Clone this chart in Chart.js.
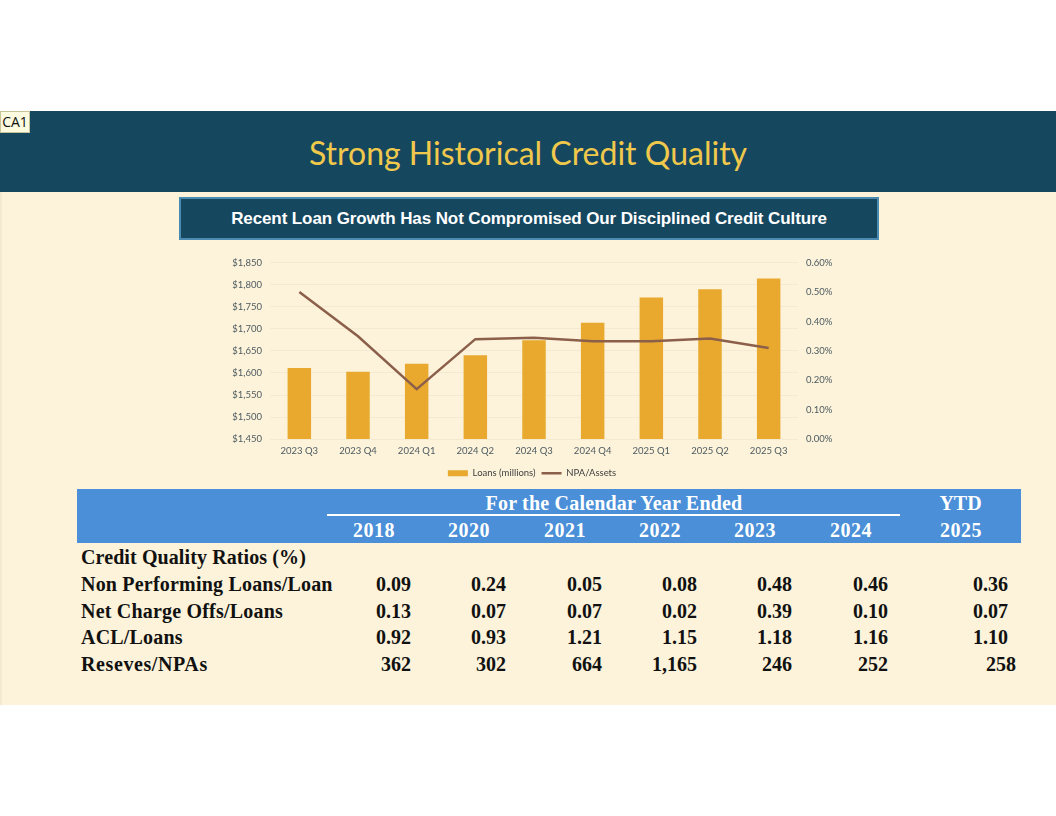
<!DOCTYPE html>
<html>
<head>
<meta charset="utf-8">
<script src="https://cdn.jsdelivr.net/npm/chart.js@4.4.1/dist/chart.umd.min.js"></script>
<style>
  html, body { margin: 0; padding: 0; background: #fff; }
  body { width: 1056px; height: 816px; position: relative; overflow: hidden; }
  .banner { position: absolute; left: 0; top: 111px; width: 1056px; height: 81px; background: #15475f; }
  .banner h1 { margin: 0; position: absolute; left: 0; right: 0; top: 22px; text-align: center;
    font-family: Lato, "Open Sans", sans-serif; font-weight: normal; font-size: 32px; color: #f0c94c; }
  .tag { position: absolute; left: 0; top: 111px; width: 28px; height: 20px; background: #fdfbe0;
    border: 1px solid #c9c39a; font: 14px "Open Sans", sans-serif; line-height: 20px; text-align: center; color: #111; }
  .cream { position: absolute; left: 0; top: 192px; width: 1056px; height: 513px; background: #fcf3da;
    border-left: 2px solid #f2ead0; box-sizing: border-box; }
  .sub { position: absolute; left: 179px; top: 197px; width: 700px; height: 43px; box-sizing: border-box;
    background: #15475f; border: 2px solid #4b8bb2; color: #fff; text-align: center;
    font: bold 17px "Liberation Sans", Arial, sans-serif; line-height: 39px; letter-spacing: -0.1px; }
  #wrap { position: absolute; left: 222px; top: 249px; width: 620px; height: 239px; }
  .tbl { position: absolute; left: 77px; top: 489px; width: 944px; font-family: "Liberation Serif", "Times New Roman", serif;
    font-weight: bold; font-size: 20px; color: #111; }
  .head { position: absolute; left: 0; top: 0; width: 944px; height: 54px; background: #4a8fd8; color: #fff; }
  .head span, .row span { position: absolute; white-space: nowrap; }
  .uline { position: absolute; left: 250px; top: 25px; width: 573px; height: 2px; background: #fff; }
  .row { position: absolute; left: 0; width: 944px; height: 26px; }
</style>
</head>
<body>
<div class="banner"><h1>Strong Historical Credit Quality</h1></div>
<div class="tag">CA1</div>
<div class="cream"></div>
<div class="sub">Recent Loan Growth Has Not Compromised Our Disciplined Credit Culture</div>
<div id="wrap"><canvas id="chart"></canvas></div>
<div class="tbl" id="tbl"></div>
<script>
// chart data
var quarters = ['2023 Q3', '2023 Q4', '2024 Q1', '2024 Q2', '2024 Q3', '2024 Q4', '2025 Q1', '2025 Q2', '2025 Q3'];
var loans = [1611, 1603, 1621, 1640, 1674, 1714, 1771, 1790, 1814];
var npaAssets = [0.50, 0.35, 0.17, 0.34, 0.345, 0.333, 0.333, 0.342, 0.31];

// table data
var years = ['2018', '2020', '2021', '2022', '2023', '2024', '2025'];
var rowLabels = ['Non Performing Loans/Loan', 'Net Charge Offs/Loans', 'ACL/Loans', 'Reseves/NPAs'];
var nplLoans = ['0.09', '0.24', '0.05', '0.08', '0.48', '0.46', '0.36'];
var ncoLoans = ['0.13', '0.07', '0.07', '0.02', '0.39', '0.10', '0.07'];
var aclLoans = ['0.92', '0.93', '1.21', '1.15', '1.18', '1.16', '1.10'];
var reservesNpa = ['362', '302', '664', '1,165', '246', '252', '258'];

var tickFont = { family: 'Lato, "Open Sans", sans-serif', size: 9.5 };
var tickColor = '#4d5a60';

var ctx = document.getElementById('chart').getContext('2d');
var chart = new Chart(ctx, {
    type: 'bar',
    data: {
        labels: quarters,
        datasets: [
            {
                type: 'line',
                label: 'NPA/Assets',
                data: npaAssets,
                yAxisID: 'y1',
                borderColor: '#8b5f4a',
                backgroundColor: '#8b5f4a',
                borderWidth: 2.5,
                pointRadius: 0,
                tension: 0,
                order: 0
            },
            {
                label: 'Loans (millions)',
                data: loans,
                yAxisID: 'y',
                backgroundColor: '#e9a92e',
                borderWidth: 0,
                categoryPercentage: 1,
                barPercentage: 0.4,
                order: 1
            }
        ]
    },
    options: {
        responsive: true,
        maintainAspectRatio: false,
        animation: false,
        layout: { padding: { top: 4, bottom: 0, left: 0, right: 0 } },
        plugins: {
            tooltip: { enabled: false },
            legend: {
                display: true,
                position: 'bottom',
                reverse: true,
                labels: {
                    usePointStyle: true,
                    pointStyleWidth: 20,
                    boxHeight: 6,
                    padding: 6,
                    color: '#404040',
                    font: tickFont,
                    generateLabels: function (chart) {
                        var items = Chart.defaults.plugins.legend.labels.generateLabels(chart);
                        items.forEach(function (it) {
                            it.pointStyle = it.datasetIndex === 0 ? 'line' : 'rect';
                            if (it.datasetIndex === 1) { it.lineWidth = 0; }
                        });
                        return items;
                    }
                }
            }
        },
        scales: {
            x: {
                grid: { display: false, drawTicks: false },
                border: { display: false },
                ticks: { color: tickColor, font: tickFont, padding: 6 }
            },
            y: {
                position: 'left',
                min: 1450,
                max: 1850,
                ticks: {
                    stepSize: 50,
                    color: tickColor,
                    font: tickFont,
                    padding: 8,
                    callback: function (v) { return '$' + v.toLocaleString('en-US'); }
                },
                grid: { color: 'rgba(120, 100, 60, 0.06)', drawTicks: false },
                border: { display: false },
                afterFit: function (s) { s.width = 48; }
            },
            y1: {
                position: 'right',
                min: 0,
                max: 0.6,
                ticks: {
                    stepSize: 0.1,
                    color: tickColor,
                    font: tickFont,
                    padding: 8,
                    callback: function (v) { return v.toFixed(2) + '%'; }
                },
                grid: { display: false, drawTicks: false },
                border: { display: false },
                afterFit: function (s) { s.width = 44; }
            }
        }
    }
});

// table
var tbl = document.getElementById('tbl');
var colRight = [334, 429, 525, 620, 715, 811, 931];
var html = '<div class="head"><span style="left:337px;top:3px;width:400px;text-align:center;letter-spacing:0.2px">For the Calendar Year Ended</span>' +
    '<div class="uline"></div><span style="left:861px;top:3px;width:45px;text-align:center">YTD</span>';
years.forEach(function (y, i) {
    var r = i === 6 ? 905 : colRight[i] - 16;
    html += '<span style="left:' + (r - 60) + 'px;top:30px;width:60px;text-align:right;letter-spacing:0.5px">' + y + '</span>';
});
html += '</div>';
html += '<div class="row" style="top:57px"><span style="left:4px;letter-spacing:0.1px">Credit Quality Ratios (%)</span></div>';
var rows = [nplLoans, ncoLoans, aclLoans, reservesNpa];
rows.forEach(function (vals, r) {
    var top = 84 + r * 26.7;
    var ls = r === 3 ? 0.6 : 0.2;
    html += '<div class="row" style="top:' + top + 'px"><span style="left:4px;letter-spacing:' + ls + 'px">' + rowLabels[r] + '</span>';
    vals.forEach(function (v, i) {
        var right = colRight[i] + (r === 3 && i === 6 ? 8 : 0);
        html += '<span style="left:' + (right - 80) + 'px;width:80px;text-align:right">' + v + '</span>';
    });
    html += '</div>';
});
tbl.innerHTML = html;
</script>
</body>
</html>
